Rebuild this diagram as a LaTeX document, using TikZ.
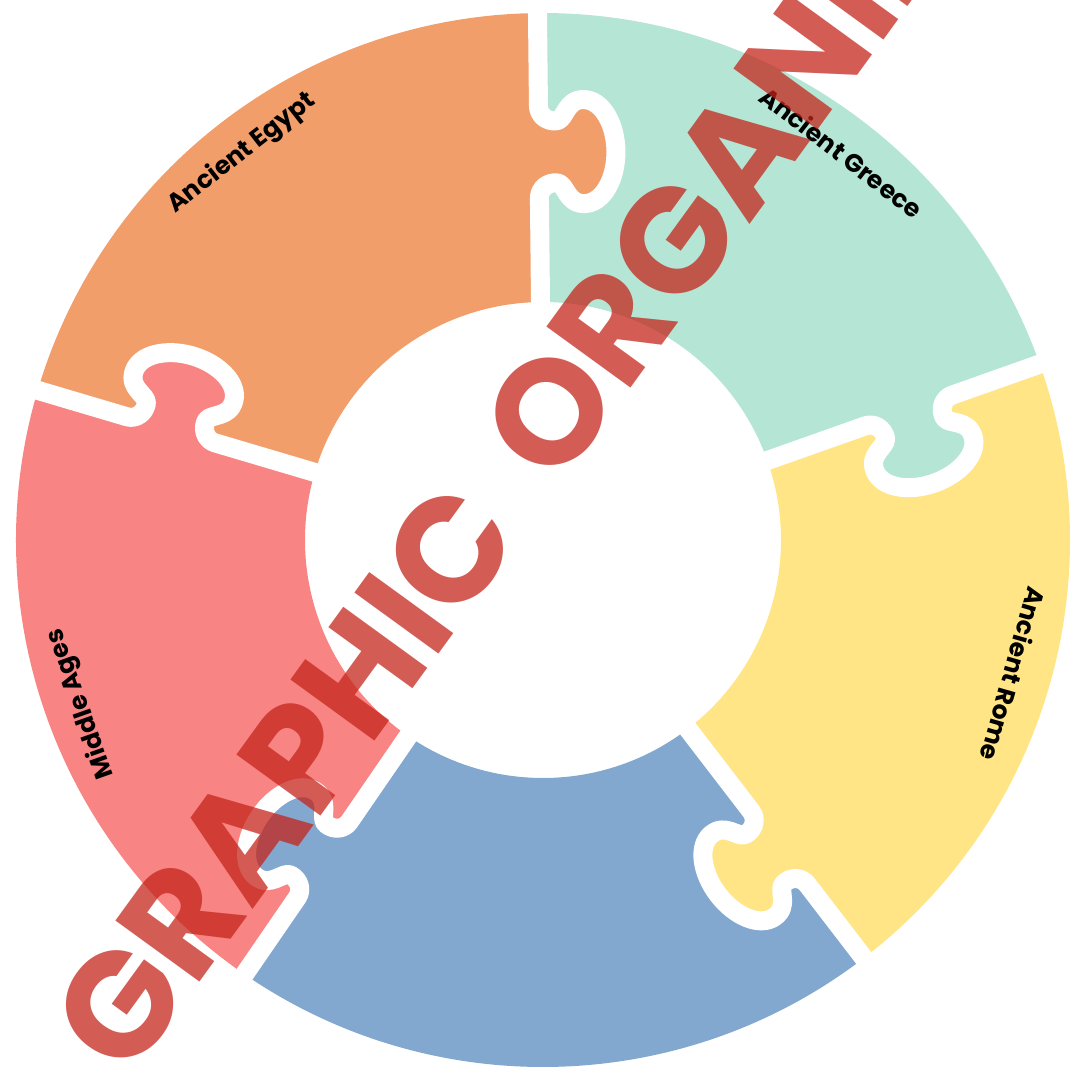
\documentclass[tikz,border=0pt]{standalone}
\usepackage{fontspec}
\newfontfamily\pop{Poppins}
\definecolor{cEgypt}{RGB}{242,158,107}
\definecolor{cGreece}{RGB}{181,230,213}
\definecolor{cRome}{RGB}{255,229,134}
\definecolor{cBlue}{RGB}{131,168,207}
\definecolor{cMiddle}{RGB}{248,132,131}
\definecolor{titlered}{RGB}{196,35,25}
\newcommand\ringsector[3]{\fill[#3] (#1:238) -- (#1:527) arc[start angle=#1, end angle=#2, radius=527pt] -- (#2:238) arc[start angle=#2, end angle=#1, radius=238pt] -- cycle;}
\newcommand\knobfill[2]{\begin{scope}[shift={(#1:388)}, rotate=#1]
\fill[#2] (-46,6) -- (-46,0) .. controls (-37,0) and (-30,-8) .. (-31,-18) .. controls (-32,-27) and (-53,-27) .. (-52,-46) .. controls (-51,-64) and (-27,-77) .. (0,-77) .. controls (27,-77) and (51,-64) .. (52,-46) .. controls (53,-27) and (32,-27) .. (31,-18) .. controls (30,-8) and (37,0) .. (46,0) -- (46,6) -- cycle;
\end{scope}}
\newcommand\knobedge[1]{\begin{scope}[shift={(#1:388)}, rotate=#1]
\draw[gap] (-170,0) -- (-46,0) .. controls (-37,0) and (-30,-8) .. (-31,-18) .. controls (-32,-27) and (-53,-27) .. (-52,-46) .. controls (-51,-64) and (-27,-77) .. (0,-77) .. controls (27,-77) and (51,-64) .. (52,-46) .. controls (53,-27) and (32,-27) .. (31,-18) .. controls (30,-8) and (37,0) .. (46,0) -- (165,0);
\end{scope}}
\begin{document}
\begin{tikzpicture}[x=1pt,y=1pt,
  gap/.style={draw=white, line width=19pt, line join=round},
  lbl/.style={font=\pop\bfseries\fontsize{25}{25}\selectfont, text=black, inner sep=0pt, text height=18pt, text depth=5pt},
  ttl/.style={font=\pop\bfseries\fontsize{148}{148}\selectfont, text=titlered, text opacity=0.74, inner sep=0pt}]
\useasboundingbox (-543,-526) rectangle (530,540);
% ring pieces
\ringsector{90.6}{163.5}{cEgypt}
\ringsector{19.5}{90.6}{cGreece}
\ringsector{-52.5}{19.5}{cRome}
\ringsector{-124.5}{-52.5}{cBlue}
\ringsector{163.5}{235.5}{cMiddle}
% knobs
\knobfill{90.6}{cEgypt}
\knobfill{19.5}{cGreece}
\knobfill{-52.5}{cRome}
\knobfill{-124.5}{cBlue}
\knobfill{163.5}{cMiddle}
% white cuts
\knobedge{90.6}
\knobedge{19.5}
\knobedge{-52.5}
\knobedge{-124.5}
\knobedge{163.5}
% labels
\node[lbl, rotate=37.9] (egypt) at (127.9:490) {Ancient Egypt};
\node[lbl, rotate=-37.6] (greece) at (52.4:486) {Ancient Greece};
\node[lbl, rotate=-105.9] (rome) at (-15.9:486) {Ancient Rome};
\node[lbl, rotate=109.5] (middle) at (199.5:490) {Middle Ages};
% title
\node[ttl, rotate=54, anchor=east] (titleA) at (-60,36) {GRAPHIC};
\node[ttl, rotate=54, anchor=west] (titleB) at (-28,81) {ORGANIZER};
\end{tikzpicture}
\end{document}
